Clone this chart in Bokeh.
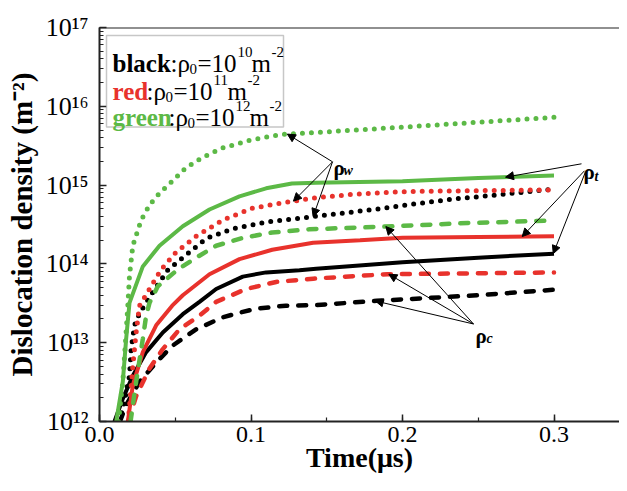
import numpy as np
from bokeh.plotting import figure
from bokeh.models import (BoxAnnotation, Label, Arrow, NormalHead, Span,
                          SingleIntervalTicker, Range1d)
from bokeh.embed import file_html
from bokeh.resources import INLINE

# ---------------- data (time in microseconds, density in m^-2) ----------------
# black: rho0 = 1e10
t_black_total = [0.0099, 0.0154, 0.022, 0.0308, 0.0418, 0.055, 0.066, 0.077, 0.0946, 0.11, 0.132, 0.143, 0.2, 0.25, 0.3]
rho_black_total = [1.0e12, 1.95e12, 3.8e12, 7.6e12, 1.35e13, 2.3e13, 3.3e13, 4.8e13, 6.9e13, 7.8e13, 8.3e13, 8.7e13, 1.05e14, 1.2e14, 1.35e14]
t_black_wall = [0.013, 0.0154, 0.0198, 0.0209, 0.0231, 0.0264, 0.033, 0.045, 0.055, 0.0704, 0.088, 0.1, 0.11, 0.132, 0.142, 0.181, 0.203, 0.232, 0.265, 0.3]
rho_black_wall = [1.0e12, 1.45e12, 3.8e12, 8.3e12, 1.66e13, 2.35e13, 3.8e13, 8.3e13, 1.2e14, 2.1e14, 2.8e14, 3.1e14, 3.4e14, 3.8e14, 4.0e14, 4.9e14, 5.6e14, 6.6e14, 7.6e14, 8.9e14]
t_black_cell = [0.0135, 0.0176, 0.0264, 0.0374, 0.048, 0.0638, 0.0814, 0.0924, 0.1034, 0.123, 0.143, 0.183, 0.25, 0.3]
rho_black_cell = [1.0e12, 1.62e12, 3.2e12, 5.6e12, 9.1e12, 1.48e13, 2.1e13, 2.4e13, 2.7e13, 2.95e13, 3.0e13, 3.4e13, 4.0e13, 4.7e13]

# red: rho0 = 1e11
t_red_total = [0.0187, 0.022, 0.0286, 0.0374, 0.048, 0.055, 0.0726, 0.0924, 0.114, 0.141, 0.172, 0.2, 0.25, 0.3]
rho_red_total = [1.0e12, 2.9e12, 7.6e12, 1.66e13, 2.95e13, 4.0e13, 7.4e13, 1.15e14, 1.51e14, 1.86e14, 2.0e14, 2.14e14, 2.2e14, 2.24e14]
t_red_wall = [0.019, 0.022, 0.0242, 0.0264, 0.033, 0.0407, 0.0506, 0.0638, 0.0814, 0.101, 0.1265, 0.143, 0.166, 0.203, 0.25, 0.3]
rho_red_wall = [1.0e12, 5.1e12, 1.35e13, 2.95e13, 4.8e13, 8.5e13, 1.41e14, 2.24e14, 3.6e14, 5.1e14, 6.2e14, 6.9e14, 7.6e14, 8.3e14, 8.5e14, 8.7e14]
t_red_cell = [0.019, 0.0242, 0.033, 0.0418, 0.0528, 0.066, 0.077, 0.0968, 0.1166, 0.141, 0.19, 0.25, 0.3]
rho_red_cell = [1.0e12, 2.1e12, 4.7e12, 8.3e12, 1.48e13, 2.2e13, 3.3e13, 4.8e13, 5.9e13, 6.5e13, 7.4e13, 7.6e13, 7.8e13]

# green: rho0 = 1e12
t_green_total = [0.011, 0.0154, 0.0176, 0.0198, 0.0286, 0.0396, 0.055, 0.0726, 0.0924, 0.11, 0.127, 0.143, 0.2, 0.25, 0.3]
rho_green_total = [1.0e12, 3.2e12, 1.12e13, 3.2e13, 9.3e13, 1.7e14, 3.0e14, 4.9e14, 7.2e14, 9.1e14, 1.05e15, 1.07e15, 1.12e15, 1.23e15, 1.32e15]
t_green_wall = [0.0125, 0.0154, 0.0176, 0.0187, 0.0198, 0.022, 0.0275, 0.033, 0.0396, 0.048, 0.057, 0.068, 0.081, 0.099, 0.12, 0.139, 0.22, 0.3]
rho_green_wall = [1.0e12, 3.2e12, 1.38e13, 2.95e13, 7.1e13, 1.7e14, 3.6e14, 5.6e14, 7.9e14, 1.12e15, 1.66e15, 2.24e15, 2.95e15, 3.7e15, 4.4e15, 4.6e15, 5.75e15, 7.25e15]
t_green_cell = [0.0205, 0.0242, 0.0286, 0.0308, 0.033, 0.0385, 0.0517, 0.0638, 0.077, 0.0946, 0.114, 0.1386, 0.194, 0.243, 0.3]
rho_green_cell = [1.0e12, 3.2e12, 1.12e13, 2.2e13, 3.2e13, 5.2e13, 8.5e13, 1.2e14, 1.7e14, 2.14e14, 2.5e14, 2.75e14, 3.0e14, 3.3e14, 3.55e14]

x_tick_values = [0.0, 0.1, 0.2, 0.3]
x_tick_labels = ["0.0", "0.1", "0.2", "0.3"]
y_tick_values = [1e12, 1e13, 1e14, 1e15, 1e16, 1e17]
y_tick_labels = ["10¹²", "10¹³", "10¹⁴", "10¹⁵", "10¹⁶", "10¹⁷"]

legend_names = ["black", "red", "green"]
legend_exponents = ["10", "11", "12"]

# ---------------- styling / layout ----------------
BLACK = "#000000"
RED = "#e8322c"
GREEN = "#5cb946"
AXC = "#222222"
SERIF = "Liberation Serif"

W, H = 619, 475
BL, BR, BT, BB = 99, 0, 27, 52
FW, FH = W - BL - BR, H - BT - BB
X0, X1 = 0.0, FW / 1515.0
Y0, Y1 = 1e12, 1e17


def sx(px):  # canvas pixel -> data x (annotation placement only)
    return X0 + (px - BL) / FW * (X1 - X0)


def sy(py):  # canvas pixel -> data y (log axis)
    l0, l1 = np.log10(Y0), np.log10(Y1)
    return 10 ** (l1 - (py - BT) / FH * (l1 - l0))


p = figure(width=W, height=H, output_backend="svg", toolbar_location=None,
           y_axis_type="log", x_range=Range1d(X0, X1), y_range=Range1d(Y0, Y1),
           min_border_left=BL, min_border_right=BR, min_border_top=BT,
           min_border_bottom=BB)
p.outline_line_color = None
p.grid.visible = False
p.background_fill_color = "white"
p.border_fill_color = "white"

# curves
curves = [
    (t_black_total, rho_black_total, BLACK, "solid"),
    (t_black_wall, rho_black_wall, BLACK, "dot"),
    (t_black_cell, rho_black_cell, BLACK, "dash"),
    (t_red_total, rho_red_total, RED, "solid"),
    (t_red_wall, rho_red_wall, RED, "dot"),
    (t_red_cell, rho_red_cell, RED, "dash"),
    (t_green_total, rho_green_total, GREEN, "solid"),
    (t_green_wall, rho_green_wall, GREEN, "dot"),
    (t_green_cell, rho_green_cell, GREEN, "dash"),
]
for tt, rr, col, sty in curves:
    if sty == "solid":
        p.line(tt, rr, line_color=col, line_width=4)
    elif sty == "dot":
        p.line(tt, rr, line_color=col, line_width=5, line_dash="0 9", line_cap="round")
    else:
        p.line(tt, rr, line_color=col, line_width=4.5, line_dash="8 11", line_cap="round")

# axes
xa = p.xaxis[0]
xa.ticker = SingleIntervalTicker(interval=0.1, num_minor_ticks=2)
xa.major_label_overrides = {v: s for v, s in zip(x_tick_values, x_tick_labels)}
ya = p.yaxis[0]
ya.major_label_overrides = {v: s for v, s in zip(y_tick_values, y_tick_labels)}
for ax in (xa, ya):
    ax.axis_line_color = AXC
    ax.axis_line_width = 2
    ax.major_tick_line_color = AXC
    ax.minor_tick_line_color = AXC
    ax.major_tick_line_width = 1.5
    ax.minor_tick_line_width = 1.2
    ax.major_tick_in = 7
    ax.major_tick_out = 0
    ax.minor_tick_in = 4
    ax.minor_tick_out = 0
    ax.major_label_text_font = SERIF
    ax.major_label_text_color = "black"
    ax.axis_label_text_font = SERIF
    ax.axis_label_text_font_style = "bold"
    ax.axis_label_text_color = "black"

xa.axis_label = "Time(μs)"
xa.major_label_text_font_size = "24px"
xa.major_label_standoff = 5
xa.axis_label_text_font_size = "28px"
xa.axis_label_standoff = -3

ya.axis_label = "Dislocation density (m⁻²)"
ya.major_label_text_font_size = "26px"
ya.major_label_standoff = 11
ya.axis_label_text_font_size = "29px"
ya.axis_label_standoff = 5

# top frame line
p.add_layout(Span(location=Y1, dimension="width", line_color=AXC, line_width=2))

# legend box with text
p.add_layout(BoxAnnotation(left=sx(106), right=sx(283), top=sy(35), bottom=sy(127),
                           fill_color="white", fill_alpha=1.0, line_color="#444444",
                           line_width=1.5))


def piece(text, px, py, size, color="black", style="normal"):
    p.add_layout(Label(x=sx(px), y=sy(py), text=text, text_font=SERIF, text_font_style=style,
                       text_font_size=f"{size}px", text_color=color, text_baseline="alphabetic"))


name_colors = [BLACK, RED, GREEN]
name_end_px = [170, 146, 168]
base_py = [63, 91, 117]
for nm, ex, col, xe, by in zip(legend_names, legend_exponents, name_colors, name_end_px, base_py):
    d = xe - 170
    piece(nm, 112, by, 25, col, "bold")
    piece(":ρ", 170 + d, by, 25)
    piece("0", 189 + d, by + 6, 15)
    piece("=10", 197 + d, by, 25)
    piece(ex, 237 + d, by - 11, 15)
    piece("m", 251 + d, by, 25)
    piece("-2", 271 + d, by - 11, 15)


def at(tt, rr, t):
    return t, 10 ** np.interp(t, tt, np.log10(rr))


def arrow(px, py, tt, rr, t):
    xe, ye = at(tt, rr, t)
    p.add_layout(Arrow(end=NormalHead(size=8, fill_color="black", line_color="black", line_width=1),
                       x_start=sx(px), y_start=sy(py), x_end=xe, y_end=ye,
                       line_color="black", line_width=1))


# rho_w arrows
arrow(332, 162, t_green_wall, rho_green_wall, 0.124)
arrow(332, 162, t_red_wall, rho_red_wall, 0.128)
arrow(332, 162, t_black_wall, rho_black_wall, 0.141)
# rho_t arrows
arrow(581, 164, t_green_total, rho_green_total, 0.268)
arrow(584, 171, t_red_total, rho_red_total, 0.279)
arrow(585, 172, t_black_total, rho_black_total, 0.2995)
# rho_c arrows
arrow(473, 325, t_green_cell, rho_green_cell, 0.189)
arrow(473, 325, t_red_cell, rho_red_cell, 0.191)
arrow(473, 325, t_black_cell, rho_black_cell, 0.182)


def rho_label(px, py, sub, sub_dx, sub_dy):
    piece("ρ", px, py, 21, style="bold")
    piece(sub, px + sub_dx, py + sub_dy, 14, style="bold italic")


rho_label(333, 168, "w", 10, 3)
rho_label(583, 172, "t", 11, 5)
rho_label(475, 337, "c", 11, 3)

open("out.html", "w").write(file_html(p, INLINE))
